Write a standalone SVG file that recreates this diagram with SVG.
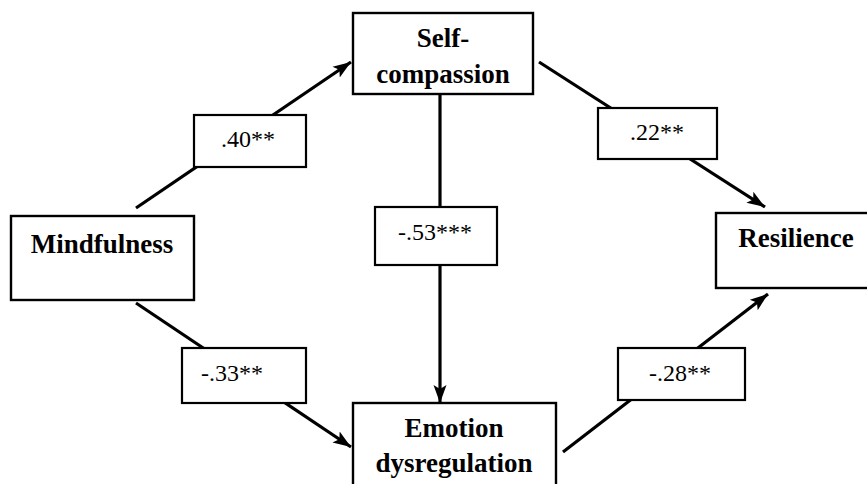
<svg xmlns="http://www.w3.org/2000/svg" width="867" height="484" viewBox="0 0 867 484">
<style>
.node rect{fill:#fff;stroke:#000;stroke-width:2.4}
.node text{font-family:'Liberation Serif','Tinos','Times New Roman','DejaVu Serif',serif;font-weight:bold;font-size:27px;fill:#000;text-anchor:middle}
.lab rect{fill:#fff;stroke:#000;stroke-width:2.2}
.lab text{font-family:'Liberation Serif','Tinos','Times New Roman','DejaVu Serif',serif;font-size:24px;fill:#000;text-anchor:middle}
.conn line{stroke:#000;stroke-width:3.2;fill:none}
</style>
<defs>
<marker id="arr" markerUnits="userSpaceOnUse" markerWidth="20" markerHeight="16" viewBox="0 0 20 16" refX="18" refY="8" orient="auto">
<path d="M0,1.5 L18,8 L0,14.5 L4,8 Z" fill="#000"/>
</marker>
</defs>
<rect width="867" height="484" fill="#fff"/>
<g id="connectors" class="conn">
<line x1="136" y1="208" x2="351" y2="62" marker-end="url(#arr)"/>
<line x1="539" y1="62" x2="765" y2="207" marker-end="url(#arr)"/>
<line x1="136" y1="303" x2="351" y2="447" marker-end="url(#arr)"/>
<line x1="563" y1="452" x2="768" y2="294" marker-end="url(#arr)"/>
<line x1="440" y1="94" x2="440" y2="403" marker-end="url(#arr)"/>
</g>
<g id="self-compassion" class="node">
<rect x="353" y="13" width="180" height="81"/>
<text x="443" y="47" font-family="Liberation Serif">Self-</text>
<text x="443" y="83" font-family="Liberation Serif">compassion</text>
</g>
<g id="mindfulness" class="node">
<rect x="11" y="216" width="183" height="84"/>
<text x="102" y="253" font-family="Liberation Serif">Mindfulness</text>
</g>
<g id="resilience" class="node">
<rect x="716" y="213" width="160" height="75"/>
<text x="796" y="247" font-family="Liberation Serif">Resilience</text>
</g>
<g id="emotion-dysregulation" class="node">
<rect x="353" y="403" width="203" height="100"/>
<text x="454" y="437" font-family="Liberation Serif">Emotion</text>
<text x="454" y="472" font-family="Liberation Serif">dysregulation</text>
</g>
<g id="label-40" class="lab">
<rect x="194" y="115" width="112" height="52"/>
<text x="248" y="147" font-family="Liberation Serif">.40**</text>
</g>
<g id="label-22" class="lab">
<rect x="598" y="108" width="119" height="51"/>
<text x="657" y="140" font-family="Liberation Serif">.22**</text>
</g>
<g id="label-33" class="lab">
<rect x="182" y="348" width="124" height="55"/>
<text x="232" y="381" font-family="Liberation Serif">-.33**</text>
</g>
<g id="label-28" class="lab">
<rect x="618" y="348" width="127" height="52"/>
<text x="680" y="381" font-family="Liberation Serif">-.28**</text>
</g>
<g id="label-53" class="lab">
<rect x="375" y="207" width="122" height="58"/>
<text x="435" y="240" font-family="Liberation Serif">-.53***</text>
</g>
</svg>
